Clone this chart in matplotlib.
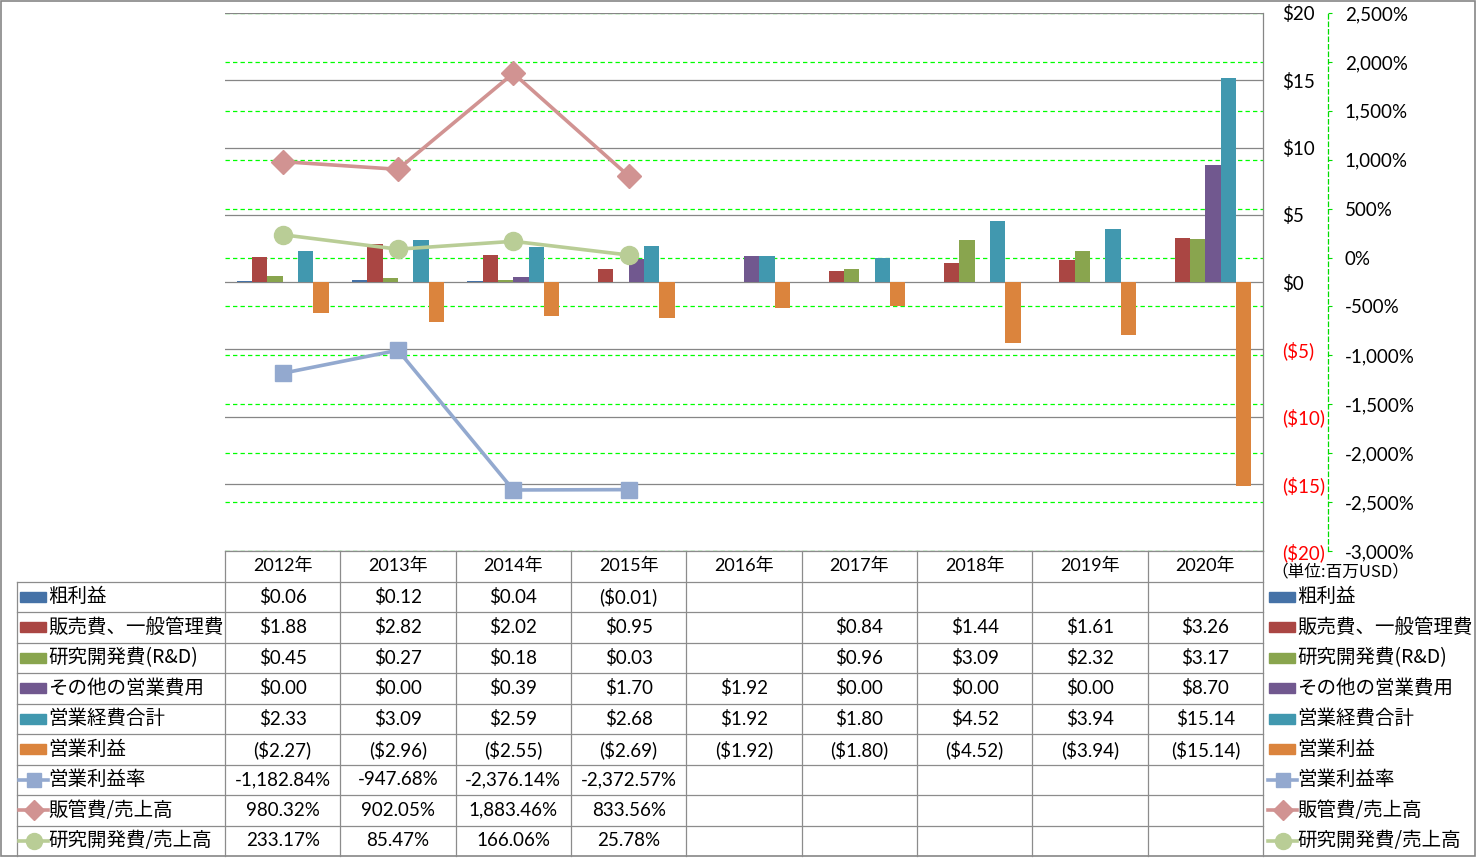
import numpy as np
import matplotlib.pyplot as plt
from matplotlib.patches import Rectangle

plt.rcParams['font.family'] = ['Lato', 'Noto Sans CJK JP', 'DejaVu Sans']

W, H = 1477, 858
nan = np.nan

# データ (単位: 百万USD / %)
years = ['2012年', '2013年', '2014年', '2015年', '2016年', '2017年', '2018年', '2019年', '2020年']
gross = [0.06, 0.12, 0.04, -0.01, nan, nan, nan, nan, nan]
sga = [1.88, 2.82, 2.02, 0.95, nan, 0.84, 1.44, 1.61, 3.26]
rnd = [0.45, 0.27, 0.18, 0.03, nan, 0.96, 3.09, 2.32, 3.17]
other = [0.00, 0.00, 0.39, 1.70, 1.92, 0.00, 0.00, 0.00, 8.70]
opex = [2.33, 3.09, 2.59, 2.68, 1.92, 1.80, 4.52, 3.94, 15.14]
opinc = [-2.27, -2.96, -2.55, -2.69, -1.92, -1.80, -4.52, -3.94, -15.14]
margin = [-1182.84, -947.68, -2376.14, -2372.57, nan, nan, nan, nan, nan]
sga_ratio = [980.32, 902.05, 1883.46, 833.56, nan, nan, nan, nan, nan]
rnd_ratio = [233.17, 85.47, 166.06, 25.78, nan, nan, nan, nan, nan]

bar_names = ['粗利益', '販売費、一般管理費', '研究開発費(R&D)', 'その他の営業費用', '営業経費合計', '営業利益']
bar_data = [gross, sga, rnd, other, opex, opinc]
bar_colors = ['#4572A7', '#AA4643', '#89A54E', '#71588F', '#4198AF', '#DB843D']

line_names = ['営業利益率', '販管費/売上高', '研究開発費/売上高']
line_data = [margin, sga_ratio, rnd_ratio]
line_colors = ['#93A9CF', '#D19392', '#B9CD96']
line_markers = ['s', 'D', 'o']
line_msize = [12, 12, 13]

usd_ticks = [-20, -15, -10, -5, 0, 5, 10, 15, 20]
pct_ticks = [-3000, -2500, -2000, -1500, -1000, -500, 0, 500, 1000, 1500, 2000, 2500]


def fmt_usd(v):
    if np.isnan(v):
        return ''
    if v < 0:
        return '(${:.2f})'.format(-v)
    return '${:.2f}'.format(v)


def fmt_pct(v):
    if np.isnan(v):
        return ''
    return '{:,.2f}%'.format(v)


def usd_tick(v):
    return '(${})'.format(-v) if v < 0 else '${}'.format(v)


fig = plt.figure(figsize=(W / 100, H / 100), dpi=100)
fig.patch.set_facecolor('white')

x0, x1, y0, y1 = 225, 1263, 13, 551
ax = fig.add_axes([x0 / W, (H - y1) / H, (x1 - x0) / W, (y1 - y0) / H])
ax2 = ax.twinx()
ax.set_zorder(ax2.get_zorder() + 1)
ax.patch.set_visible(False)

x = np.arange(len(years))
n = len(bar_data)
bw = 0.8 / n
for k, (vals, c) in enumerate(zip(bar_data, bar_colors)):
    ax.bar(x + (k - (n - 1) / 2) * bw, vals, width=bw, color=c, zorder=2)

for vals, c, m, ms in zip(line_data, line_colors, line_markers, line_msize):
    ax.plot(x, vals, color=c, lw=2.6, marker=m, ms=ms, mfc=c, mec=c,
            transform=ax2.transData, zorder=4, solid_capstyle='round')

ax.set_xlim(-0.5, len(years) - 0.5)
ax.set_ylim(-20, 20)
ax.set_xticks([])
ax.yaxis.tick_right()
ax.set_yticks(usd_ticks, labels=[usd_tick(v) for v in usd_ticks])
ax.tick_params(axis='y', length=0, pad=14, labelsize=13.5)
for lab, v in zip(ax.get_yticklabels(), usd_ticks):
    lab.set_color('red' if v < 0 else 'black')
ax.set_axisbelow(True)
ax.grid(axis='y', color='#868686', lw=0.9)
for s in ['left', 'top', 'bottom']:
    ax.spines[s].set_visible(False)
ax.spines['right'].set_color('#868686')
ax.spines['right'].set_linewidth(0.9)

ax2.set_ylim(-3000, 2500)
ax2.set_yticks(pct_ticks, labels=['{:,}%'.format(v) for v in pct_ticks])
ax2.tick_params(axis='y', length=3, width=0.8, color='#00DD00', pad=9, labelsize=13.5)
for lab, v in zip(ax2.get_yticklabels(), pct_ticks):
    lab.set_color('red' if v < 0 else 'black')
ax2.grid(axis='y', color='#00FF00', lw=0.9, linestyle=(0, (3.5, 2.5)))
for s in ['left', 'top', 'bottom']:
    ax2.spines[s].set_visible(False)
ax2.spines['right'].set_position(('axes', (1328 - x0) / (x1 - x0)))
ax2.spines['right'].set_color('#00DD00')
ax2.spines['right'].set_linestyle((0, (3.5, 2.5)))
ax2.spines['right'].set_linewidth(0.9)
ax2.set_xticks([])

# データテーブルと凡例
tab = fig.add_axes([0, 0, 1, 1], zorder=10)
tab.set_xlim(0, W)
tab.set_ylim(H, 0)
tab.axis('off')
tab.patch.set_visible(False)

gc = '#8C8C8C'
col_w = (x1 - x0) / len(years)
row_h = 30.5
n_rows = len(bar_names) + len(line_names)
row_edges = [y1 + row_h * r for r in range(n_rows + 2)]
col_edges = [x0 + col_w * j for j in range(len(years) + 1)]

tab.plot([x0, x1], [y1, y1], color=gc, lw=0.9)
for ye in row_edges[1:-1]:
    tab.plot([17, x1], [ye, ye], color=gc, lw=0.9)
for xe in col_edges:
    tab.plot([xe, xe], [y1, row_edges[-1]], color=gc, lw=0.9)
tab.plot([17, 17], [row_edges[1], row_edges[-1]], color=gc, lw=0.9)

for j, yr in enumerate(years):
    tab.text(x0 + col_w * (j + 0.5), y1 + row_h / 2, yr, ha='center', va='center', fontsize=13)

labels = bar_names + line_names
cells = [[fmt_usd(v) for v in d] for d in bar_data] + [[fmt_pct(v) for v in d] for d in line_data]
for r, (name, row) in enumerate(zip(labels, cells)):
    yc = y1 + row_h * (r + 1.5)
    for j, t in enumerate(row):
        tab.text(x0 + col_w * (j + 0.5), yc, t, ha='center', va='center', fontsize=13.5)
    for kx, tx in [(19, 48), (1268, 1297)]:
        if r < len(bar_names):
            tab.add_patch(Rectangle((kx + 1, yc - 5), 26, 10, color=bar_colors[r]))
        else:
            i = r - len(bar_names)
            tab.plot([kx, kx + 14.5, kx + 29], [yc] * 3, color=line_colors[i], lw=2.6,
                     marker=line_markers[i], ms=line_msize[i] - 1.5, markevery=[1])
        tab.text(tx, yc, name, ha='left', va='center', fontsize=14,
                 family=['Noto Sans CJK JP', 'DejaVu Sans'])

tab.text(1271, 572, '（単位:百万USD）', ha='left', va='center', fontsize=12,
         family=['Noto Sans CJK JP', 'DejaVu Sans'])

tab.add_patch(Rectangle((1, 1), W - 3, H - 3, fill=False, edgecolor='#868686', lw=1.2))

fig.savefig('out.png', dpi=100, facecolor='white')
